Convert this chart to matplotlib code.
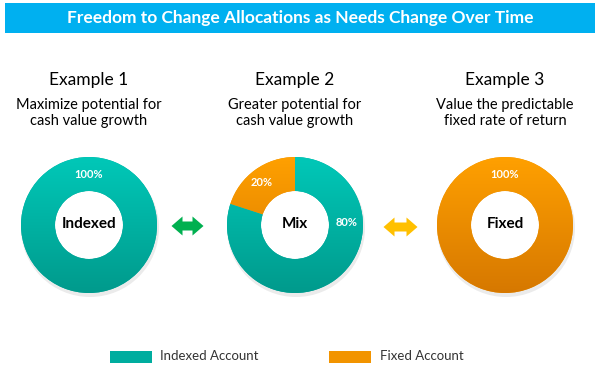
import numpy as np
import matplotlib.pyplot as plt
from matplotlib.patches import Rectangle, Circle
from matplotlib.colors import LinearSegmentedColormap

# data
examples = ["Example 1", "Example 2", "Example 3"]
subtitles = ["Maximize potential for\ncash value growth",
             "Greater potential for\ncash value growth",
             "Value the predictable\nfixed rate of return"]
centers_lbl = ["Indexed", "Mix", "Fixed"]
indexed_pct = [100, 80, 0]
fixed_pct = [0, 20, 100]
legend_lbl = ["Indexed Account", "Fixed Account"]

TEAL = "#00ad9f"
ORANGE = "#f29400"
teal_grad = LinearSegmentedColormap.from_list("t", ["#009a8c", "#00c8b8"])
orange_grad = LinearSegmentedColormap.from_list("o", ["#d67800", "#ffa000"])
plt.rcParams['font.family'] = ['Lato', 'DejaVu Sans']

W, H = 600, 371
fig = plt.figure(figsize=(6, 3.71), dpi=100)
ax = fig.add_axes([0, 0, 1, 1])

def Y(y):
    return H - y

# title bar
ax.add_patch(Rectangle((5, Y(33)), 590, 30, color="#00b0f0", lw=0))
ax.text(300, Y(18), "Freedom to Change Allocations as Needs Change Over Time",
        ha="center", va="center", color="white", fontsize=12.5, fontweight="bold")

cx = [89, 295, 505]
cy = 225
R = 68
grad = np.linspace(0, 1, 256).reshape(-1, 1)
for i in range(3):
    vals, cols, cmaps = [], [], []
    if fixed_pct[i] > 0:
        vals.append(fixed_pct[i]); cols.append(ORANGE); cmaps.append(orange_grad)
    if indexed_pct[i] > 0:
        vals.append(indexed_pct[i]); cols.append(TEAL); cmaps.append(teal_grad)
    # soft shadow
    ax.add_patch(Circle((cx[i] + 1, Y(cy) - 3), R + 1, color="#000000", alpha=0.08, lw=0, zorder=0.5))
    ax.add_patch(Circle((cx[i], Y(cy)), R * 0.5, color="white", lw=0, zorder=0.6))
    wedges, _ = ax.pie(vals, colors=cols, startangle=90, counterclock=True, radius=R,
                       center=(cx[i], Y(cy)), wedgeprops=dict(width=R * 0.5, lw=0),
                       frame=True)
    for w, cm in zip(wedges, cmaps):
        im = ax.imshow(grad, cmap=cm, origin="lower", aspect="auto",
                       extent=(cx[i] - R, cx[i] + R, Y(cy) - R, Y(cy) + R), zorder=w.get_zorder())
        im.set_clip_path(w)
    ax.text(cx[i], Y(80), examples[i], ha="center", va="center", fontsize=12.5)
    ax.text(cx[i], Y(113), subtitles[i], ha="center", va="center", fontsize=10.5,
            linespacing=1.25)
    ax.text(cx[i], Y(cy - 1), centers_lbl[i], ha="center", va="center",
            fontsize=11, fontweight="bold", zorder=5)

# percentage labels
pct_kw = dict(ha="center", va="center", color="white", fontsize=8, fontweight="bold", zorder=5)
ax.text(cx[0], Y(175), f"{indexed_pct[0]}%", **pct_kw)
ax.text(262, Y(183), f"{fixed_pct[1]}%", **pct_kw)
ax.text(347, Y(223), f"{indexed_pct[1]}%", **pct_kw)
ax.text(cx[2], Y(174), f"{fixed_pct[2]}%", **pct_kw)

# double arrows
def dbl_arrow(xc, yc, length, stem, head_w, head_l, color):
    h = length / 2
    xs = [xc - h, xc - h + head_l, xc - h + head_l, xc + h - head_l, xc + h - head_l, xc + h,
          xc + h - head_l, xc + h - head_l, xc - h + head_l, xc - h + head_l]
    ys = [yc, yc + head_w / 2, yc + stem / 2, yc + stem / 2, yc + head_w / 2, yc,
          yc - head_w / 2, yc - stem / 2, yc - stem / 2, yc - head_w / 2]
    ax.fill(xs, ys, color=color, lw=0)

dbl_arrow(187.5, Y(226), 32, 9, 19, 11, "#00b050")
dbl_arrow(400.5, Y(227), 34, 9, 19, 11, "#ffc000")

# legend
ax.add_patch(Rectangle((110, Y(363)), 42, 12, color=TEAL, lw=0))
ax.text(160, Y(356), legend_lbl[0], ha="left", va="center", fontsize=9.5, color="#333333")
ax.add_patch(Rectangle((329, Y(363)), 42, 12, color=ORANGE, lw=0))
ax.text(380, Y(356), legend_lbl[1], ha="left", va="center", fontsize=9.5, color="#333333")

ax.set_xlim(0, W)
ax.set_ylim(0, H)
ax.set_aspect("auto")
ax.axis("off")
fig.savefig("out.png", dpi=100)
